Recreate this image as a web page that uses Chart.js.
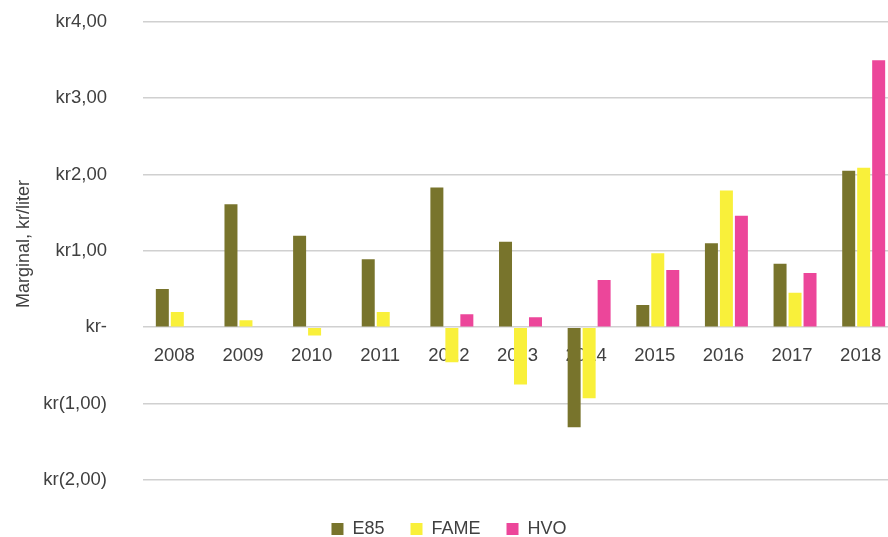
<!DOCTYPE html>
<html>
<head>
<meta charset="utf-8">
<script src="https://cdn.jsdelivr.net/npm/chart.js@4/dist/chart.umd.min.js"></script>
<style>
  html, body { margin: 0; padding: 0; background: #fff; overflow: hidden; }
  #wrap { width: 888px; height: 537px; overflow: hidden; }
</style>
</head>
<body>
<div id="wrap"><canvas id="c" width="898" height="537"></canvas></div>
<script>
const categories = ['2008','2009','2010','2011','2012','2013','2014','2015','2016','2017','2018'];
const e85  = [0.50, 1.61, 1.20, 0.89, 1.83, 1.12, -1.31, 0.29, 1.10, 0.83, 2.05];
const fame = [0.20, 0.09, -0.11, 0.20, -0.46, -0.75, -0.93, 0.97, 1.79, 0.45, 2.09];
const hvo  = [null, null, null, null, 0.17, 0.13, 0.62, 0.75, 1.46, 0.71, 3.50];
const seriesNames = ['E85', 'FAME', 'HVO'];
const yTitle = 'Marginal, kr/liter';
const yMin = -2, yMax = 4, yStep = 1;

const FONT = "'Liberation Sans', Arial, sans-serif";
const TXT = '#404040';

function krFormat(v) {
  if (Math.abs(v) < 1e-9) return 'kr-';
  const s = Math.abs(v).toFixed(2).replace('.', ',');
  return v < 0 ? 'kr(' + s + ')' : 'kr' + s;
}

// y-axis title drawn as canvas text, slightly above the plot's centre as in the reference
const yTitlePlugin = {
  id: 'yTitlePlugin',
  afterDraw(chart) {
    const ctx = chart.ctx;
    const area = chart.chartArea;
    ctx.save();
    ctx.translate(24, (area.top + area.bottom) / 2 - 7);
    ctx.rotate(-Math.PI / 2);
    ctx.fillStyle = TXT;
    ctx.font = "18px " + FONT;
    ctx.textAlign = 'center';
    ctx.textBaseline = 'middle';
    ctx.fillText(yTitle, 0, 0);
    ctx.restore();
  }
};

new Chart(document.getElementById('c'), {
  type: 'bar',
  data: {
    labels: categories,
    datasets: [
      { label: seriesNames[0], data: e85,  backgroundColor: '#78742C' },
      { label: seriesNames[1], data: fame, backgroundColor: '#F9F03A' },
      { label: seriesNames[2], data: hvo,  backgroundColor: '#EC469A' }
    ]
  },
  plugins: [yTitlePlugin],
  options: {
    responsive: false,
    animation: false,
    datasets: { bar: { categoryPercentage: 0.655, barPercentage: 0.867 } },
    layout: { padding: { left: 0, right: 0, top: 22, bottom: -11 } },
    plugins: {
      tooltip: { enabled: false },
      legend: {
        position: 'bottom',
        title: { display: true, text: ' ', font: { size: 1 }, padding: { top: 13, bottom: 0 } },
        labels: {
          boxWidth: 12, boxHeight: 12, padding: 26,
          color: TXT, font: { family: FONT, size: 18 }
        }
      }
    },
    scales: {
      x: {
        position: { y: 0 },
        grid: { display: false },
        border: { display: false },
        ticks: { color: TXT, font: { family: FONT, size: 18.5 }, padding: 10, labelOffset: -3, maxRotation: 0 },
        afterFit(scale) {
          scale.height = 0;
          scale.paddingLeft = 0; scale.paddingRight = 0;
          scale.paddingTop = 0; scale.paddingBottom = 0;
        }
      },
      y: {
        min: yMin, max: yMax,
        grid: { color: '#D0D0D0', lineWidth: 1.6, drawTicks: false },
        border: { display: false },
        ticks: { stepSize: yStep, color: TXT, font: { family: FONT, size: 18.5 }, padding: 36, callback: (v) => krFormat(v) },
        afterFit(scale) {
          scale.width = 143;
          scale.paddingTop = 0; scale.paddingBottom = 0;
          scale.paddingLeft = 0; scale.paddingRight = 0;
        }
      }
    }
  }
});
</script>
</body>
</html>
